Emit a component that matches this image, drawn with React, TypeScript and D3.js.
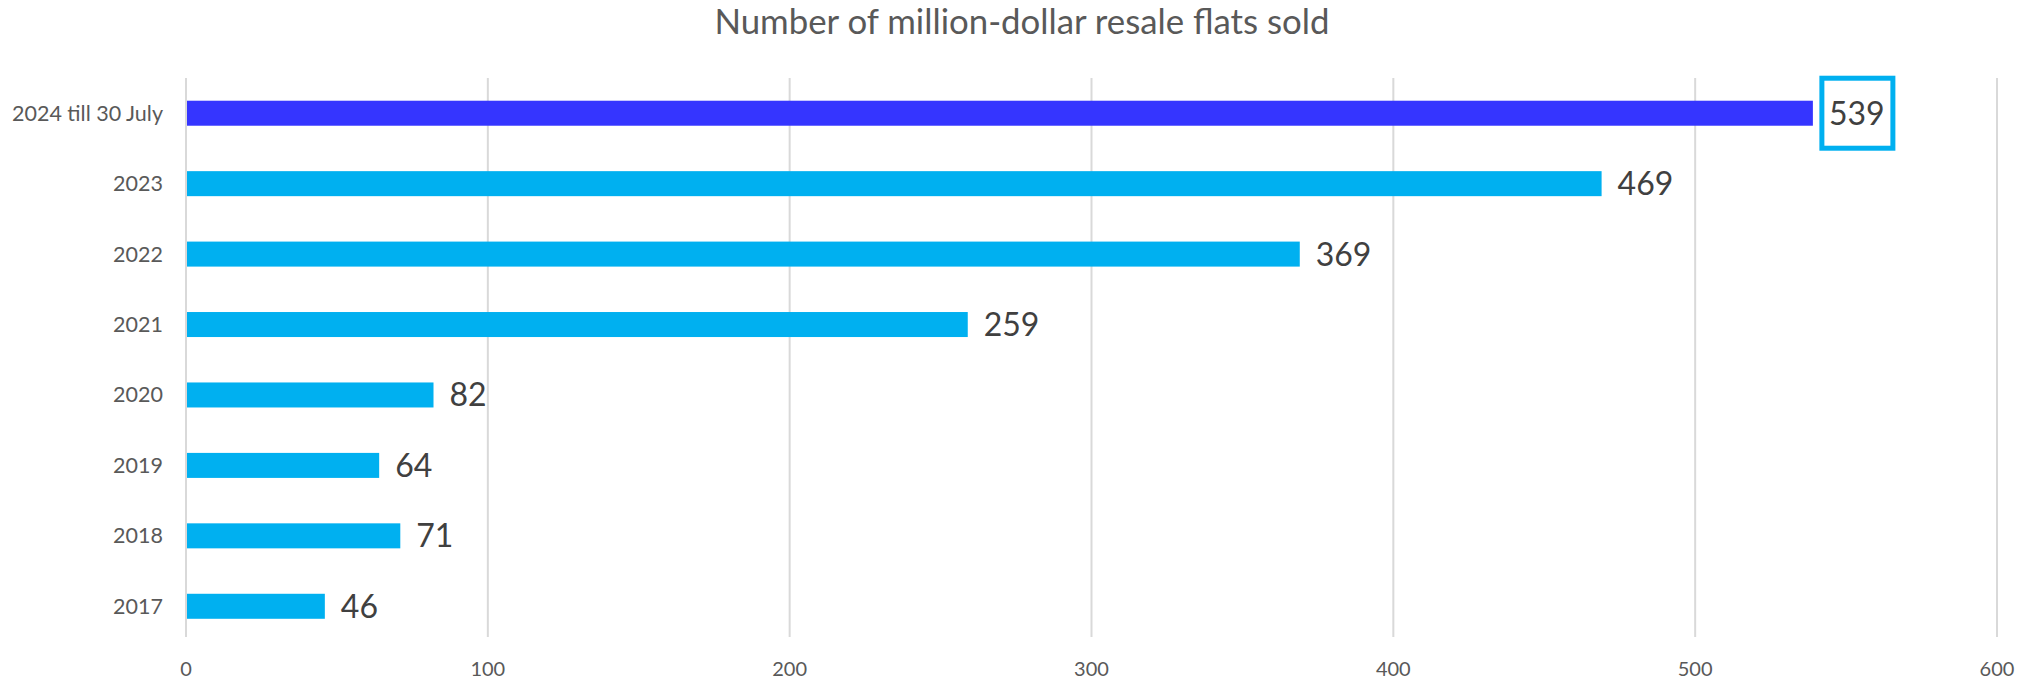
import React from "react";
import * as d3 from "d3";

const categories = ["2024 till 30 July", "2023", "2022", "2021", "2020", "2019", "2018", "2017"];
const values = [539, 469, 369, 259, 82, 64, 71, 46];
const xTicks = [0, 100, 200, 300, 400, 500, 600];
const highlighted = "2024 till 30 July";
const title = "Number of million-dollar resale flats sold";

const W = 2029;
const H = 683;
const FONT = "Lato, 'Open Sans', sans-serif";

export default function App() {
  const x = d3.scaleLinear().domain([0, 600]).range([186, 1997]);
  const y = d3.scaleBand().domain(categories).range([78, 641.5]).paddingInner(0.645).paddingOuter(0.3225);

  return (
    <svg width={W} height={H} style={{ position: "absolute", left: 0, top: 0, background: "#fff" }}>
      <text x={1022} y={34} textAnchor="middle" fontFamily={FONT} fontSize={34.8} fill="#595959">
        {title}
      </text>
      {xTicks.map((t) => (
        <g key={t}>
          <line x1={x(t)} x2={x(t)} y1={78} y2={637} stroke="#D9D9D9" strokeWidth={2} />
          <text x={x(t)} y={676} textAnchor="middle" fontFamily={FONT} fontSize={20} fill="#595959">
            {t}
          </text>
        </g>
      ))}
      {categories.map((c, i) => {
        const y0 = y(c)!;
        const bw = y.bandwidth();
        const cy = y0 + bw / 2;
        const xe = x(values[i]);
        const isH = c === highlighted;
        return (
          <g key={c}>
            <rect x={x(0) + 1} y={y0} width={xe - x(0) - 1} height={bw} fill={isH ? "#3535FF" : "#00B0F0"} />
            <text x={163} y={cy} dy="0.35em" textAnchor="end" fontFamily={FONT} fontSize={21.5} fill="#595959">
              {c}
            </text>
            {isH && (
              <rect x={xe + 9} y={cy - 35} width={71} height={70} fill="none" stroke="#00B0F0" strokeWidth={5} />
            )}
            <text x={xe + 16} y={cy} dy="0.36em" fontFamily={FONT} fontSize={32} fill="#404040">
              {values[i]}
            </text>
          </g>
        );
      })}
    </svg>
  );
}
